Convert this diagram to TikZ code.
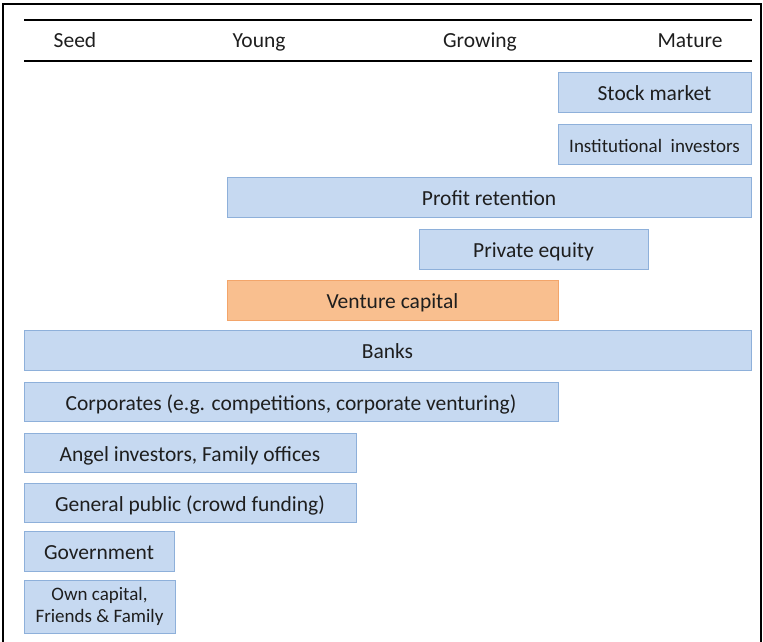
\documentclass[tikz,border=0pt]{standalone}
\usepackage{fontspec}
\setmainfont{Carlito}
\definecolor{boxfill}{HTML}{C6D9F1}
\definecolor{boxline}{HTML}{8EB0DA}
\definecolor{vcfill}{HTML}{F9BF8F}
\definecolor{vcline}{HTML}{F3A56A}
\definecolor{txt}{HTML}{1E1E1E}
\begin{document}
\begin{tikzpicture}[x=1pt,y=-1pt,
  box/.style={draw=boxline, fill=boxfill, line width=1pt, inner sep=0pt, text=txt, font=\fontsize{21.5}{24}\selectfont, align=center},
  onebox/.style={box, text height=17.5pt, text depth=0.5pt},
  vcbox/.style={onebox, draw=vcline, fill=vcfill},
  stage/.style={text=txt, font=\fontsize{21.5}{24}\selectfont, inner sep=0pt, anchor=base}]
\useasboundingbox (0,0) rectangle (763,641);
\draw[line width=1.6pt] (3,645) -- (3,4) -- (761,4) -- (761,645);
\draw[line width=2pt] (24,20) -- (752,20);
\draw[line width=2pt] (24,61) -- (752,61);
\node[stage] (seed) at (75,47.5) {Seed};
\node[stage] (young) at (259,47.5) {Young};
\node[stage] (growing) at (480,47.5) {Growing};
\node[stage] (mature) at (690,47.5) {Mature};
\node[onebox, minimum width=193pt, minimum height=40pt] (stock) at (654.5,92) {Stock market};
\node[onebox, minimum width=193pt, minimum height=40pt, font=\fontsize{19}{22}\selectfont] (inst) at (654.5,144) {Institutional\ \ investors};
\node[onebox, minimum width=524pt, minimum height=40pt] (profit) at (489,197) {Profit retention};
\node[onebox, minimum width=229pt, minimum height=40pt] (pe) at (533.5,249) {Private equity};
\node[vcbox, minimum width=331pt, minimum height=40pt] (vc) at (392.5,300) {Venture capital};
\node[onebox, minimum width=727pt, minimum height=40pt] (banks) at (387.5,350) {Banks};
\node[onebox, minimum width=534pt, minimum height=39pt] (corp) at (291,401.5) {Corporates (e.g. competitions, corporate venturing)};
\node[onebox, minimum width=332pt, minimum height=39pt] (angel) at (190,452.5) {Angel investors, Family offices};
\node[onebox, minimum width=332pt, minimum height=39pt] (public) at (190,502.5) {General public (crowd funding)};
\node[onebox, minimum width=150pt, minimum height=40pt] (gov) at (99,551) {Government};
\node[box, minimum width=151pt, minimum height=53pt, font=\fontsize{19}{22}\selectfont] (own) at (99.5,606.5) {Own capital,\\Friends \& Family};
\end{tikzpicture}
\end{document}
